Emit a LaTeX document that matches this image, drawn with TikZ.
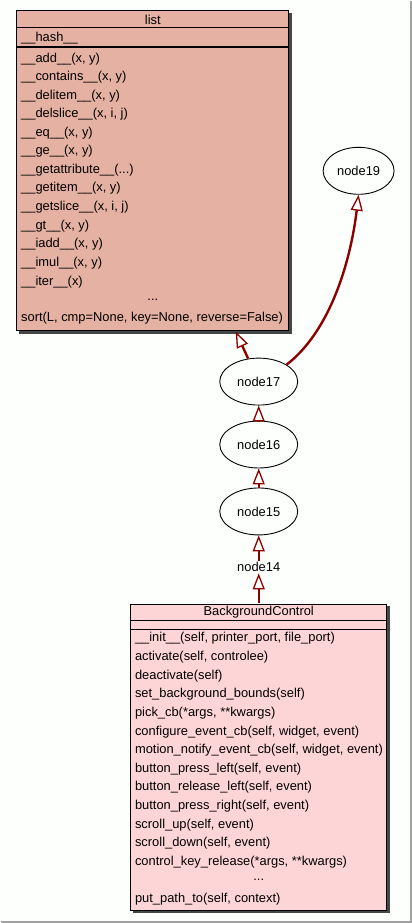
\documentclass[tikz,border=0pt]{standalone}
\usepackage{fontspec}
\setmainfont{Liberation Sans}
\usetikzlibrary{arrows.meta,positioning,shapes.geometric}
\definecolor{listfill}{RGB}{228,177,162}
\definecolor{ctrlfill}{RGB}{254,213,214}
\definecolor{edgered}{RGB}{139,0,0}
\definecolor{shadowgray}{RGB}{70,70,70}
\definecolor{framegray}{RGB}{160,160,160}
\tikzset{
  classbox/.style={draw=black, line width=1pt},
  boxshadow/.style={fill=shadowgray, draw=none},
  member/.style={anchor=west, inner sep=0pt, font=\fontsize{12.9}{13}\selectfont},
  heading/.style={anchor=center, inner sep=0pt, font=\fontsize{12.9}{13}\selectfont},
  oval/.style={draw=black, ellipse, line width=0.9pt, minimum width=#1, minimum height=47pt, inner sep=0pt, font=\fontsize{12.9}{13}\selectfont},
  plainnode/.style={inner sep=1pt, font=\fontsize{12.9}{13}\selectfont},
  inherit/.style={draw=edgered, line width=2.4pt, -{Triangle[open, length=16pt, width=12pt, line width=1.3pt, fill=white]}},
}
\begin{document}
\begin{tikzpicture}[x=1pt, y=-1pt]
  % canvas with its grey frame on the right and bottom
  \fill[white!99!green] (0,0) rectangle (411,923);
  \draw[framegray, line width=2pt] (410,0) -- (410,922) -- (0,922);
  \useasboundingbox (0,0) rectangle (411,923);

  % ---- class list ----
  \fill[boxshadow] (18,12) rectangle (291,333);
  \fill[listfill] (16,10) rectangle (288,330);
  \draw[classbox] (16,10) rectangle (288,330);
  \draw[black, line width=1pt] (16,27) -- (288,27);
  \draw[black, line width=2pt] (16,46) -- (288,46);
  \node[heading] (listtitle) at (152,18.5) {list};
  \node[member] (lhash) at (20,37) {\_\_hash\_\_};
  \node[member] (l1) at (20,58) {\_\_add\_\_(x, y)};
  \node[member] (l2) at (20,76.5) {\_\_contains\_\_(x, y)};
  \node[member] (l3) at (20,95) {\_\_delitem\_\_(x, y)};
  \node[member] (l4) at (20,113.5) {\_\_delslice\_\_(x, i, j)};
  \node[member] (l5) at (20,132) {\_\_eq\_\_(x, y)};
  \node[member] (l6) at (20,150.5) {\_\_ge\_\_(x, y)};
  \node[member] (l7) at (20,169) {\_\_getattribute\_\_(...)};
  \node[member] (l8) at (20,187.5) {\_\_getitem\_\_(x, y)};
  \node[member] (l9) at (20,206) {\_\_getslice\_\_(x, i, j)};
  \node[member] (l10) at (20,225) {\_\_gt\_\_(x, y)};
  \node[member] (l11) at (20,243.5) {\_\_iadd\_\_(x, y)};
  \node[member] (l12) at (20,262) {\_\_imul\_\_(x, y)};
  \node[member] (l13) at (20,281) {\_\_iter\_\_(x)};
  \node[heading] (ldots) at (152,299) {...};
  \node[member] (l14) at (20,318) {sort(L, cmp=None, key=None, reverse=False)};
  \coordinate (listbottom) at (235,331);

  % ---- ellipse nodes ----
  \node[oval=71pt] (n19) at (358,170) {node19};
  \node[oval=78pt] (n17) at (258,381) {node17};
  \node[oval=78pt] (n16) at (258,444) {node16};
  \node[oval=78pt] (n15) at (258,511) {node15};
  \node[plainnode] (n14) at (258,567) {node14};

  % ---- class BackgroundControl ----
  \fill[boxshadow] (132,606) rectangle (389,913);
  \fill[ctrlfill] (130,604) rectangle (386,910);
  \draw[classbox] (130,604) rectangle (386,910);
  \draw[black, line width=1pt] (130,620) -- (386,620);
  \draw[black, line width=1pt] (130,629) -- (386,629);
  \node[heading] (bctitle) at (258,612) {BackgroundControl};
  \node[member] (b1) at (134,638) {\_\_init\_\_(self, printer\_port, file\_port)};
  \node[member] (b2) at (134,657) {activate(self, controlee)};
  \node[member] (b3) at (134,675.5) {deactivate(self)};
  \node[member] (b4) at (134,694) {set\_background\_bounds(self)};
  \node[member] (b5) at (134,713) {pick\_cb(*args, **kwargs)};
  \node[member] (b6) at (134,731.5) {configure\_event\_cb(self, widget, event)};
  \node[member] (b7) at (134,750) {motion\_notify\_event\_cb(self, widget, event)};
  \node[member] (b8) at (134,769) {button\_press\_left(self, event)};
  \node[member] (b9) at (134,787.5) {button\_release\_left(self, event)};
  \node[member] (b10) at (134,806) {button\_press\_right(self, event)};
  \node[member] (b11) at (134,825) {scroll\_up(self, event)};
  \node[member] (b12) at (134,843.5) {scroll\_down(self, event)};
  \node[member] (b13) at (134,862) {control\_key\_release(*args, **kwargs)};
  \node[heading] (bdots) at (258,880) {...};
  \node[member] (b14) at (134,899) {put\_path\_to(self, context)};
  \coordinate (bctop) at (258,603);

  % ---- inheritance edges ----
  \draw[inherit] (n17) -- (listbottom);
  \draw[inherit] (n17.north east) .. controls (330,330) and (350,260) .. (n19.south);
  \draw[inherit] (n16) -- (n17);
  \draw[inherit] (n15) -- (n16);
  \draw[inherit] (n14) -- (n15);
  \draw[inherit] (bctop) -- (n14);
\end{tikzpicture}
\end{document}
